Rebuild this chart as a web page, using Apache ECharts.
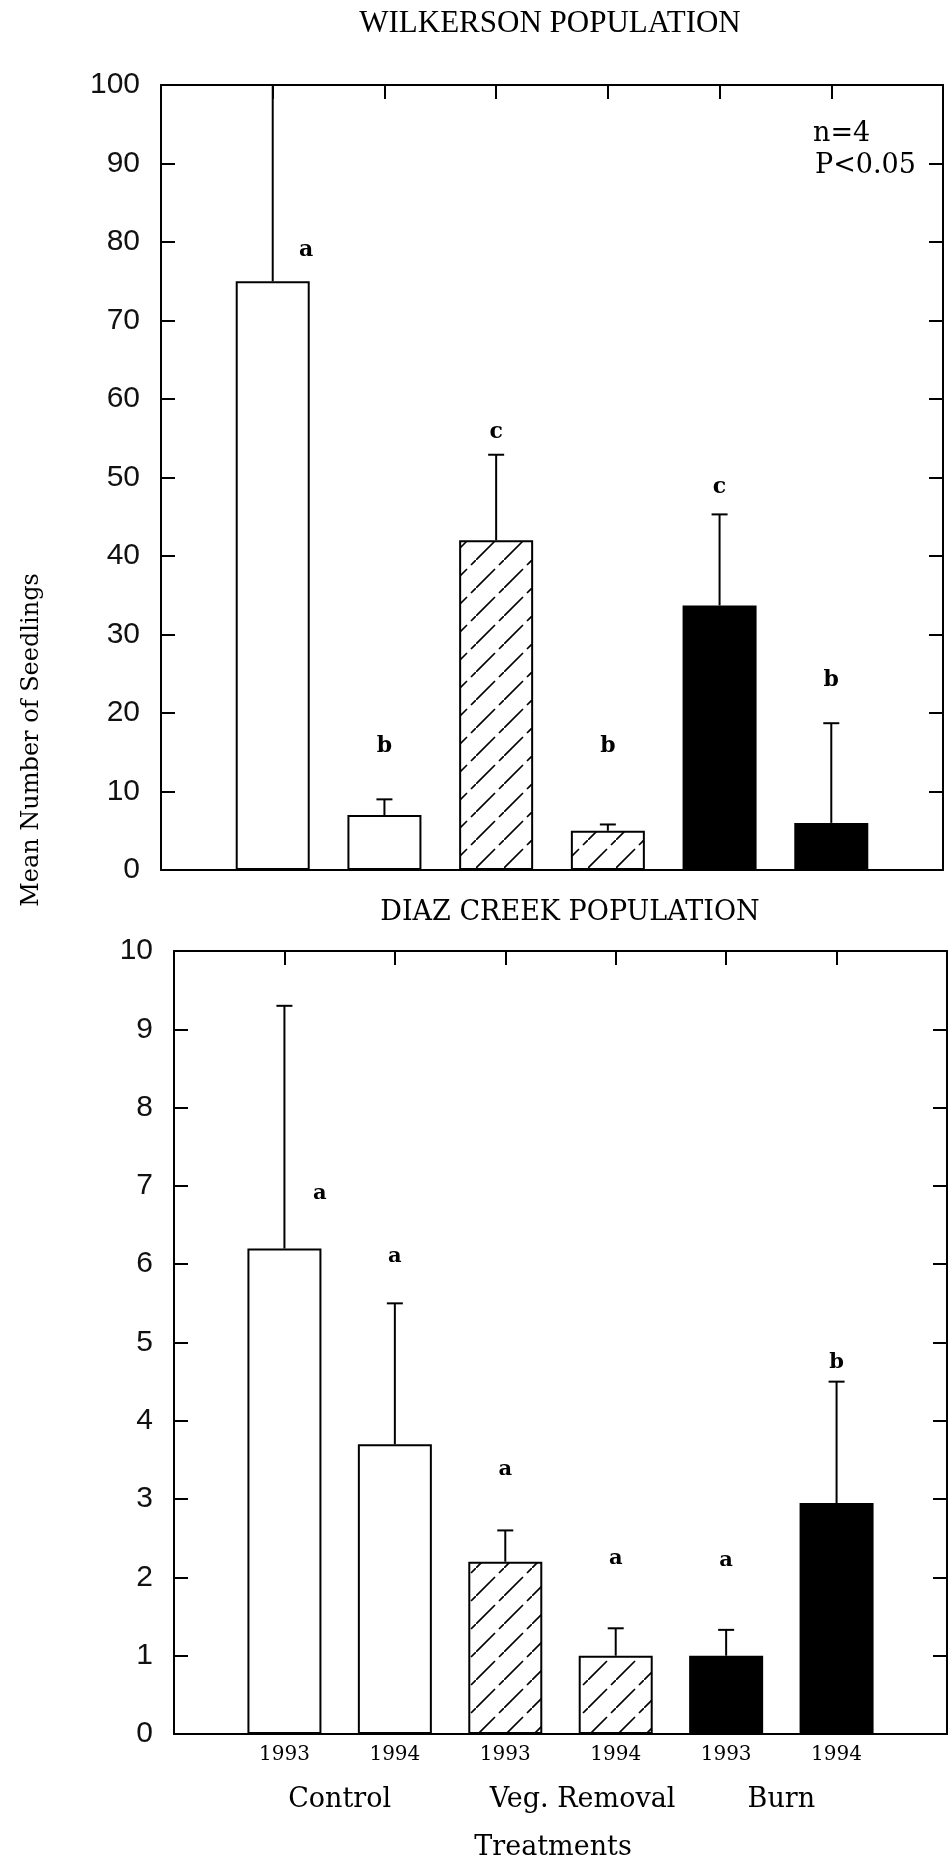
<!DOCTYPE html>
<html>
<head>
<meta charset="utf-8">
<title>Mean Number of Seedlings</title>
<script src="https://cdn.jsdelivr.net/npm/echarts@6/dist/echarts.min.js"></script>
<style>
  html, body { margin: 0; padding: 0; background: #fff; }
  #main { width: 949px; height: 1866px; }
</style>
</head>
<body>
<div id="main"></div>
<script>
// one slot per treatment-year on the x axis (0..7 is the frame)
var slots = [1, 2, 3, 4, 5, 6];
var years = ['1993', '1994', '1993', '1994', '1993', '1994'];
var treatment = ['Control', 'Control', 'Veg. Removal', 'Veg. Removal', 'Burn', 'Burn'];
var groupNames = ['Control', 'Veg. Removal', 'Burn'];
var groupPos = [1.5, 3.7, 5.5];

// Wilkerson population
var wilkMean = [75, 7, 42, 5, 33.7, 6];
var wilkSE = [27, 2, 10.9, 0.8, 11.6, 12.7];
var wilkLetter = ['a', 'b', 'c', 'b', 'c', 'b'];
var wilkLetterX = [1.3, 2, 3, 4, 5, 6];
var wilkLetterY = [79, 15.8, 55.7, 15.7, 48.8, 24.2];

// Diaz Creek population
var diazMean = [6.2, 3.7, 2.2, 1.0, 1.0, 2.95];
var diazSE = [3.1, 1.8, 0.4, 0.35, 0.33, 1.55];
var diazLetter = ['a', 'a', 'a', 'a', 'a', 'b'];
var diazLetterX = [1.32, 2, 3, 4, 5, 6];
var diazLetterY = [6.9, 6.1, 3.38, 2.24, 2.21, 4.74];

var serif = '"DejaVu Serif", "Liberation Serif", serif';
var sans = '"Liberation Sans", Arial, sans-serif';

// diagonal hatch for the vegetation removal bars
function makeHatch() {
  var c = document.createElement('canvas');
  c.width = 28; c.height = 28;
  var g = c.getContext('2d');
  g.fillStyle = '#fff';
  g.fillRect(0, 0, 28, 28);
  g.strokeStyle = '#000';
  g.lineWidth = 1.7;
  g.beginPath();
  g.moveTo(-1, 29); g.lineTo(19, 9);
  g.moveTo(23, 5); g.lineTo(29, -1);
  g.stroke();
  return c;
}
var hatch = { image: makeHatch(), repeat: 'repeat' };
var fillFor = { 'Control': '#fff', 'Veg. Removal': hatch, 'Burn': '#000' };

function barData(means) {
  return means.map(function (v, i) {
    return { value: [slots[i], v], itemStyle: { color: fillFor[treatment[i]] } };
  });
}
function errData(means, se) {
  return means.map(function (v, i) { return [slots[i], v, se[i]]; });
}
function letterData(xs, ys) {
  return xs.map(function (x, i) { return [x, ys[i]]; });
}

function renderErr(params, api) {
  var x = api.value(0), m = api.value(1), s = api.value(2);
  var top = params.coordSys.y;
  var p0 = api.coord([x, m]);
  var p1 = api.coord([x, m + s]);
  var st = { stroke: '#000', lineWidth: 2 };
  var kids = [{ type: 'line', shape: { x1: p0[0], y1: p0[1], x2: p0[0], y2: Math.max(p1[1], top) }, style: st }];
  if (p1[1] >= top) {
    kids.push({ type: 'line', shape: { x1: p1[0] - 8, y1: p1[1], x2: p1[0] + 8, y2: p1[1] }, style: st });
  }
  return { type: 'group', children: kids };
}
function letterRenderer(letters, size) {
  return function (params, api) {
    var p = api.coord([api.value(0), api.value(1)]);
    return {
      type: 'text', x: p[0], y: p[1],
      style: { text: letters[params.dataIndex], font: 'bold ' + size + 'px ' + serif, fill: '#000', align: 'center', verticalAlign: 'middle' }
    };
  };
}

function frameLine() {
  return { show: true, onZero: false, lineStyle: { color: '#000', width: 2 } };
}
function inTick() {
  return { show: true, inside: true, length: 14, lineStyle: { color: '#000', width: 2 } };
}

function xFrame(grid, pos, ticks, label) {
  return {
    type: 'value', gridIndex: grid, position: pos, min: 0, max: 7, interval: 1,
    axisLine: frameLine(), axisTick: ticks ? inTick() : { show: false },
    splitLine: { show: false },
    axisLabel: label || { show: false }
  };
}
function yFrame(grid, pos, max, step, label) {
  return {
    type: 'value', gridIndex: grid, position: pos, min: 0, max: max, interval: step,
    axisLine: frameLine(), axisTick: inTick(), splitLine: { show: false },
    axisLabel: label || { show: false }
  };
}
function yLabel() {
  return { show: true, fontFamily: sans, fontSize: 30, color: '#111', margin: 21 };
}

var chart = echarts.init(document.getElementById('main'), null, { renderer: 'canvas' });
var option = {
  animation: false,
  backgroundColor: '#fff',
  grid: [
    { left: 161, top: 85, width: 782, height: 785, outerBoundsMode: 'none' },
    { left: 174, top: 951, width: 773, height: 783, outerBoundsMode: 'none' }
  ],
  xAxis: [
    xFrame(0, 'bottom', false),
    xFrame(0, 'top', true),
    xFrame(1, 'bottom', false, {
      show: true, fontFamily: serif, fontSize: 20, color: '#000', margin: 11,
      formatter: function (v) { return (v >= 1 && v <= 6) ? years[v - 1] : ''; }
    }),
    xFrame(1, 'top', true),
    {
      type: 'value', gridIndex: 1, position: 'bottom', offset: 44, min: 0, max: 7,
      axisLine: { show: false }, axisTick: { show: false }, splitLine: { show: false },
      axisLabel: {
        show: true, customValues: groupPos, fontFamily: serif, fontSize: 27, color: '#000', margin: 8,
        formatter: function (v) { var i = groupPos.indexOf(v); return i < 0 ? '' : groupNames[i]; }
      }
    }
  ],
  yAxis: [
    yFrame(0, 'left', 100, 10, yLabel()),
    yFrame(0, 'right', 100, 10),
    yFrame(1, 'left', 10, 1, yLabel()),
    yFrame(1, 'right', 10, 1)
  ],
  graphic: [
    { type: 'text', x: 550, y: 24, style: { text: 'WILKERSON POPULATION', font: '31px "Liberation Serif", serif', fill: '#000', align: 'center', verticalAlign: 'middle' } },
    { type: 'text', x: 570, y: 913, style: { text: 'DIAZ CREEK POPULATION', font: '27px ' + serif, fill: '#000', align: 'center', verticalAlign: 'middle' } },
    { type: 'text', x: 813, y: 134, style: { text: 'n=4', font: '27px ' + serif, fill: '#000', align: 'left', verticalAlign: 'middle' } },
    { type: 'text', x: 815, y: 166, style: { text: 'P<0.05', font: '27px ' + serif, fill: '#000', align: 'left', verticalAlign: 'middle' } },
    { type: 'text', x: 32, y: 740, rotation: Math.PI / 2, style: { text: 'Mean Number of Seedlings', font: '24px ' + serif, fill: '#000', align: 'center', verticalAlign: 'middle' } },
    { type: 'text', x: 553, y: 1848, style: { text: 'Treatments', font: '27px ' + serif, fill: '#000', align: 'center', verticalAlign: 'middle' } }
  ],
  series: [
    {
      type: 'bar', xAxisIndex: 0, yAxisIndex: 0, barWidth: 74,
      itemStyle: { borderColor: '#000', borderWidth: 2 },
      data: barData(wilkMean)
    },
    {
      type: 'custom', xAxisIndex: 0, yAxisIndex: 0, z: 5,
      encode: { x: 0, y: 1 }, renderItem: renderErr, data: errData(wilkMean, wilkSE)
    },
    {
      type: 'custom', xAxisIndex: 0, yAxisIndex: 0, z: 6,
      encode: { x: 0, y: 1 }, renderItem: letterRenderer(wilkLetter, 22), data: letterData(wilkLetterX, wilkLetterY)
    },
    {
      type: 'bar', xAxisIndex: 2, yAxisIndex: 2, barWidth: 74,
      itemStyle: { borderColor: '#000', borderWidth: 2 },
      data: barData(diazMean)
    },
    {
      type: 'custom', xAxisIndex: 2, yAxisIndex: 2, z: 5,
      encode: { x: 0, y: 1 }, renderItem: renderErr, data: errData(diazMean, diazSE)
    },
    {
      type: 'custom', xAxisIndex: 2, yAxisIndex: 2, z: 6,
      encode: { x: 0, y: 1 }, renderItem: letterRenderer(diazLetter, 21), data: letterData(diazLetterX, diazLetterY)
    }
  ]
};
chart.setOption(option);
</script>
</body>
</html>
